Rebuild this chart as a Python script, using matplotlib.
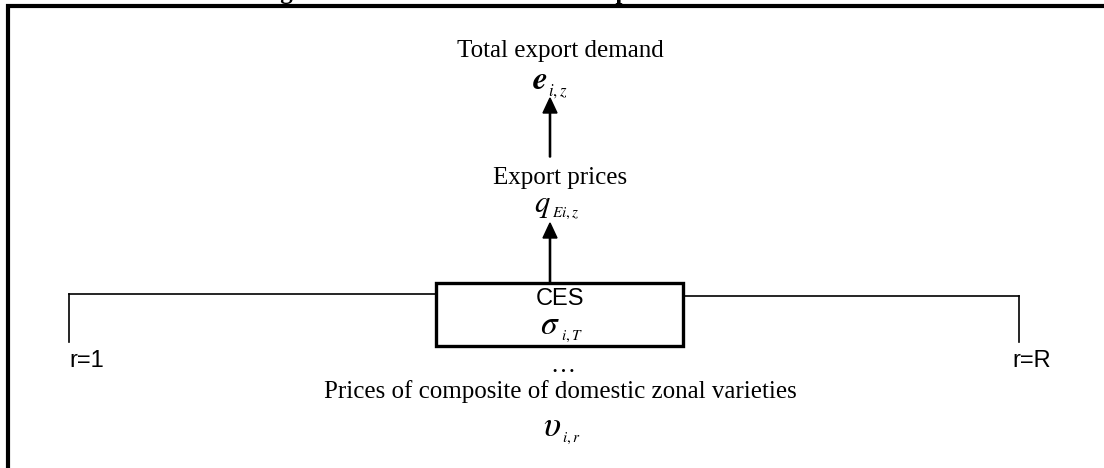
import matplotlib
matplotlib.use('Agg')
import matplotlib.pyplot as plt
from matplotlib.patches import Rectangle

plt.rcParams['mathtext.fontset'] = 'stix'

# Labels of the nesting diagram
title = 'Figure 8: Structure of the total export demand'
top_label = 'Total export demand'
top_symbol = (r'$\mathbfit{e}$', r'$i,z$')
mid_label = 'Export prices'
mid_symbol = (r'$q$', r'$Ei,z$')
node_label = 'CES'
node_symbol = (r'$\sigma$', r'$i,T$')
branch_labels = ['r=1', 'r=R']
bottom_label = 'Prices of composite of domestic zonal varieties'
bottom_symbol = (r'$\upsilon$', r'$i,r$')

serif = 'Liberation Serif'
sans = 'Liberation Sans'

fig = plt.figure(figsize=(11.04, 4.68), dpi=100)
ax = fig.add_axes([0, 0, 1, 1])
ax.set_xlim(0, 1104)
ax.set_ylim(468, 0)
ax.axis('off')


def symbol(x, y, parts, size, sub_size=12, sub_drop=8):
    # main letter ends at x, subscript starts there and sits a little lower
    ax.text(x, y, parts[0], fontsize=size, ha='right', va='baseline')
    ax.text(x + 1, y + sub_drop, parts[1], fontsize=sub_size, ha='left', va='baseline')


# Frame (only the top and left edges are inside the picture)
ax.plot([6, 1104], [6, 6], color='black', lw=3, solid_capstyle='butt')
ax.plot([8, 8], [4, 468], color='black', lw=3, solid_capstyle='butt')

# Clipped caption above the frame
ax.text(258, -1, title, family=serif, fontweight='bold', fontsize=18,
        ha='left', va='baseline')

# Top level
ax.text(560, 57, top_label, family=serif, fontsize=18, ha='center', va='baseline')
symbol(547, 89, top_symbol, 24, 12, 7)
ax.arrow(550, 157, 0, -59, width=1.2, head_width=14, head_length=15,
         length_includes_head=True, color='black')

# Middle level
ax.text(560, 184, mid_label, family=serif, fontsize=18, ha='center', va='baseline')
symbol(551, 212, mid_symbol, 22, 11, 5)
ax.arrow(550, 283, 0, -60, width=1.2, head_width=14, head_length=15,
         length_includes_head=True, color='black')

# CES node
ax.add_patch(Rectangle((436, 283), 247, 63, fill=False, lw=2.4, ec='black'))
ax.text(560, 299, node_label, family=sans, fontsize=17, ha='center', va='center')
symbol(560, 334, node_symbol, 24, 11, 6)

# Branches to regions
ax.plot([69, 436], [294, 294], color='black', lw=1.2)
ax.plot([69, 69], [294, 342], color='black', lw=1.2)
ax.plot([683, 1019], [296, 296], color='black', lw=1.2)
ax.plot([1019, 1019], [296, 342], color='black', lw=1.2)
ax.text(69, 361, branch_labels[0], family=sans, fontsize=17, ha='left', va='center')
ax.text(1012, 361, branch_labels[1], family=sans, fontsize=17, ha='left', va='center')

# Bottom level
ax.text(563, 366, '\u2026', family=serif, fontsize=18, ha='center', va='center')
ax.text(560, 398, bottom_label, family=serif, fontsize=18, ha='center', va='baseline')
symbol(561, 436, bottom_symbol, 26, 11, 6)

fig.savefig('out.png', dpi=100)
